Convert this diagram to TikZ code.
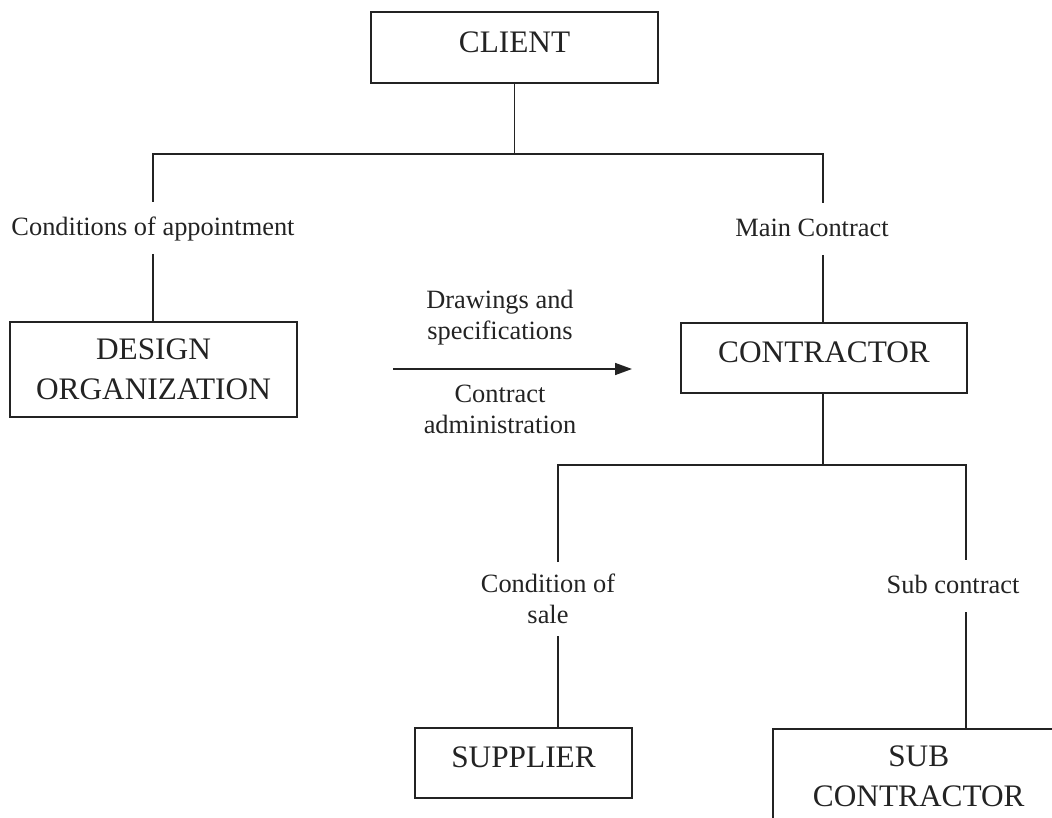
\documentclass[tikz,border=0pt]{standalone}
\usepackage{fontspec}
\setmainfont{Liberation Serif}
\usetikzlibrary{arrows.meta}
\definecolor{ink}{RGB}{35,35,35}
\begin{document}
\begin{tikzpicture}[x=1pt,y=-1pt,
  box/.style={draw=ink, line width=1.5pt, text=ink, inner sep=0pt, align=center,
    font=\fontsize{31.3}{40}\selectfont},
  onebox/.style={box, text height=21.9pt, text depth=12.2pt},
  lbl/.style={text=ink, font=\fontsize{26.4}{31}\selectfont, inner xsep=2pt,
    inner ysep=12pt, text height=21pt, text depth=6.6pt, anchor=north},
  lbltwo/.style={text=ink, font=\fontsize{26.4}{31}\selectfont, align=center,
    inner xsep=2pt, inner ysep=12pt, anchor=north},
  arrlbl/.style={text=ink, font=\fontsize{26.4}{31}\selectfont, align=center,
    inner sep=0pt, anchor=north},
  link/.style={draw=ink, line width=1.6pt, line join=miter}]

\useasboundingbox (0,0) rectangle (1052,818);
\clip (0,0) rectangle (1052,818);

% parties
\node[onebox, minimum width=287pt, minimum height=71pt] (client) at (514.5,47.5) {CLIENT};
\node[box, minimum width=287pt, minimum height=95pt] (design) at (153.5,369.5) {DESIGN\\ORGANIZATION};
\node[onebox, minimum width=286pt, minimum height=70pt] (contractor) at (824,358) {CONTRACTOR};
\node[onebox, minimum width=217pt, minimum height=70pt] (supplier) at (523.5,763) {SUPPLIER};
\node[box, minimum width=292pt, minimum height=95pt, anchor=north west] (sub) at (772,728) {SUB\\CONTRACTOR};

% branching points
\coordinate (busL) at (153,154);
\coordinate (busR) at (823,154);
\coordinate (subL) at (558,465);
\coordinate (subR) at (966,465);

% contract labels
\node[lbl] (coa) at (153,202) {Conditions of appointment};
\node[lbl] (mc) at (812,203) {Main Contract};
\node[lbltwo] (cos) at (548,562) {Condition of\\sale};
\node[lbl] (sc) at (953,560) {Sub contract};

% design to contractor flow
\coordinate (aS) at (393,369);
\coordinate (aE) at (632,369);
\node[arrlbl] (dws) at (500,290) {Drawings and\\specifications};
\node[arrlbl] (ca) at (500,385) {Contract\\administration};

% connectors
\draw[link] (client.south) -- (client.south |- busL);
\draw[link] (busL |- coa.north) -- (busL) -- (busR) -- (busR |- mc.north);
\draw[link] (busL |- coa.south) -- (busL |- design.north);
\draw[link] (busR |- mc.south) -- (busR |- contractor.north);
\draw[link] (busR |- contractor.south) -- (busR |- subL);
\draw[link] (subL |- cos.north) -- (subL) -- (subR) -- (subR |- sc.north);
\draw[link] (subL |- cos.south) -- (subL |- supplier.north);
\draw[link] (subR |- sc.south) -- (subR |- sub.north);
\draw[link, -{Triangle[length=17pt,width=12pt]}] (aS) -- (aE);
\end{tikzpicture}
\end{document}
